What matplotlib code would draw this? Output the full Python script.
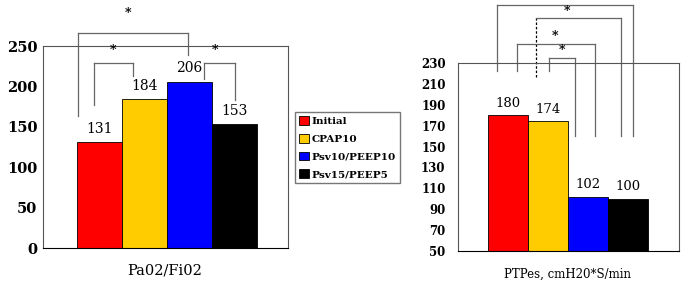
import matplotlib
matplotlib.use("Agg")
import matplotlib.pyplot as plt
import matplotlib.patches as mpatches

groups = ["Initial", "CPAP10", "Psv10/PEEP10", "Psv15/PEEP5"]
colors = ["#FF0000", "#FFCC00", "#0000FF", "#000000"]

pf_values = [131, 184, 206, 153]
ptp_values = [180, 174, 102, 100]

pf_ticks = [0, 50, 100, 150, 200, 250]
ptp_ticks = [50, 70, 90, 110, 130, 150, 170, 190, 210, 230]

# significance brackets: (x_left, x_right, y_left, y_right, y_top, star_x, star_y, dashed_left)
pf_brackets = [
    (-0.48, 1.97, 163, 239, 266, 0.63, 290, False),
    (-0.12, 0.74, 177, 213, 229, 0.30, 245, False),
    (2.32, 3.01, 209, 183, 229, 2.57, 245, False),
]
ptp_brackets = [
    (-0.27, 3.12, 222, 160, 286, None, None, False),
    (0.70, 2.82, 217, 160, 273, 1.47, 279, True),
    (0.22, 2.17, 222, 160, 248, 1.17, 255, False),
    (1.02, 1.67, 222, 160, 235, 1.35, 242, False),
]

serif = ["DejaVu Serif"]
line_col = "#666666"

fig = plt.figure(figsize=(6.88, 2.84), dpi=100)


def draw_panel(ax, values, ticks, ylim, xlim, brackets, label_fs, tick_fs, pad):
    x = range(len(values))
    ax.bar(x, values, width=1.0, color=colors, edgecolor="black", linewidth=0.6)
    for xi, v in zip(x, values):
        ax.text(xi, v + (ylim[1] - ylim[0]) * 0.03, f"{v}", ha="center",
                va="bottom", fontsize=label_fs, family=serif)
    ax.set_xlim(*xlim)
    ax.set_ylim(*ylim)
    ax.set_xticks([])
    ax.set_yticks(ticks)
    ax.set_yticklabels([str(t) for t in ticks], fontsize=tick_fs,
                       fontweight="bold", family=serif)
    ax.tick_params(axis="y", length=0, pad=pad)
    for s in ax.spines.values():
        s.set_color("#555555")
        s.set_linewidth(0.8)
    ax.spines["bottom"].set_color("black")
    for xl, xr, yl, yr, yt, sx, sy, dashed in brackets:
        ax.plot([xl, xl], [yl, yt], color="black" if dashed else line_col,
                lw=0.9, ls=(0, (2, 1.5)) if dashed else "-", clip_on=False)
        ax.plot([xl, xr], [yt, yt], color=line_col, lw=0.9, clip_on=False)
        ax.plot([xr, xr], [yt, yr], color=line_col, lw=0.9, clip_on=False)
        if sx is not None:
            ax.text(sx, sy, "*", ha="center", va="center", fontsize=9,
                    fontweight="bold", family=serif, clip_on=False)


ax1 = fig.add_axes([43 / 688, 1 - 248 / 284, 245 / 688, 202 / 284])
draw_panel(ax1, pf_values, pf_ticks, (0, 250), (-1.256, 4.19), pf_brackets,
           10, 10.5, 4)

ax2 = fig.add_axes([458 / 688, 1 - 251 / 284, 221 / 688, 188 / 284])
draw_panel(ax2, ptp_values, ptp_ticks, (50, 230), (-1.25, 4.275), ptp_brackets,
           9.5, 8.5, 9)

fig.text(165 / 688, 1 - 270 / 284, "Pa02/Fi02", ha="center", va="center",
         fontsize=10.5, family=serif)
fig.text(568 / 688, 1 - 274 / 284, "PTPes, cmH20*S/min", ha="center",
         va="center", fontsize=8.5, family=serif)

handles = [mpatches.Patch(facecolor=c, edgecolor="black", linewidth=0.6, label=g)
           for g, c in zip(groups, colors)]
fig.legend(handles=handles, loc="upper left",
           bbox_to_anchor=(295 / 688, 1 - 112 / 284), frameon=True,
           fancybox=False, edgecolor="#777777", framealpha=1,
           prop={"family": serif, "weight": "bold", "size": 7.5},
           handlelength=0.9, handleheight=0.9, handletextpad=0.3,
           labelspacing=0.75, borderpad=0.4, borderaxespad=0)

fig.savefig("out.png", dpi=100)
